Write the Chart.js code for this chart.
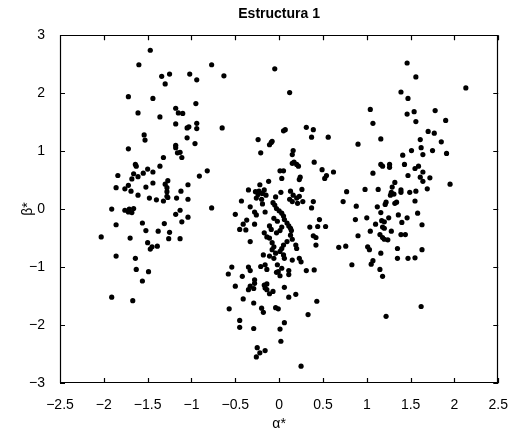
<!DOCTYPE html>
<html>
<head>
<meta charset="utf-8">
<script src="https://cdn.jsdelivr.net/npm/chart.js@4"></script>
<style>
  html, body { margin: 0; padding: 0; background: #fff; }
  #wrap { width: 514px; height: 435px; }
</style>
</head>
<body>
<div id="wrap"><canvas id="scatterChart" width="514" height="435"></canvas></div>
<script>
// values, one pair of arrays per cloud
const alphaLeft = [-1.47,-1.60,-0.77,-1.34,-1.25,-1.30,-1.02,-0.94,-1.72,-1.44,-0.95,-1.61,-1.36,-1.18,-1.15,-1.10,
  -1.18,-1.05,-1.03,-0.94,-0.94,-1.54,-1.53,-1.05,-0.96,-1.72,-1.18,-1.18,-1.16,-1.13,-1.32,-1.11,-1.64,-1.63,-1.36,
  -1.50,-1.44,-1.55,-1.84,-1.66,-1.61,-1.68,-0.91,-0.82,-1.27,-1.30,-1.44,-1.52,-1.04,-1.86,-1.76,-1.72,-1.69,-1.28,
  -1.28,-1.28,-1.27,-1.12,-1.61,-1.48,-1.40,-1.32,-1.17,-1.04,-0.77,-1.91,-1.76,-1.71,-1.66,-1.68,-1.72,-1.13,-1.18,
  -1.04,-1.11,-1.56,-1.31,-1.86,-1.52,-1.38,-1.25,-2.03,-1.70,-1.26,-1.13,-1.50,-1.45,-1.47,-1.39,-1.86,-1.64,-1.63,
  -1.49,-1.56,-1.91,-1.67];
const betaLeft = [2.74,2.49,2.49,2.29,2.33,2.16,2.33,2.23,1.94,1.91,1.82,1.66,1.59,1.74,1.66,1.65,
  1.47,1.40,1.42,1.48,1.39,1.28,1.19,1.23,1.13,1.04,1.10,1.06,0.97,0.98,0.89,0.89,0.77,0.74,0.74,
  0.69,0.64,0.62,0.58,0.61,0.56,0.52,0.57,0.66,0.49,0.43,0.45,0.38,0.42,0.37,0.35,0.41,0.31,0.37,
  0.30,0.22,0.20,0.31,0.24,0.19,0.16,0.14,0.19,0.17,0.02,0.00,-0.02,0.00,0.01,-0.06,-0.05,-0.02,-0.09,
  -0.14,-0.22,-0.24,-0.25,-0.27,-0.37,-0.38,-0.40,-0.48,-0.50,-0.51,-0.51,-0.58,-0.65,-0.69,-0.64,-0.81,-0.85,-1.04,
  -1.08,-1.24,-1.52,-1.58];

const alphaMid = [-0.63,-0.05,0.12,-0.65,-0.24,-0.11,-0.09,-0.08,0.05,0.07,0.31,0.39,0.37,0.56,-0.21,0.16,0.15,
  0.17,0.20,0.22,0.15,0.40,0.49,0.54,0.52,0.62,0.01,0.05,0.24,0.23,0.03,-0.12,-0.22,-0.35,-0.27,-0.23,-0.17,-0.24,
  -0.19,-0.15,-0.26,-0.20,0.02,0.13,0.16,0.20,0.23,0.26,-0.43,-0.04,-0.07,0.12,0.15,0.21,0.27,0.39,-0.33,-0.28,
  -0.16,-0.19,-0.05,-0.03,0.00,0.03,0.05,0.37,-0.50,-0.26,-0.06,-0.02,0.06,0.09,0.11,0.13,0.14,-0.37,-0.41,-0.45,
  -0.38,-0.28,-0.11,-0.09,0.03,0.01,-0.03,0.46,0.35,0.44,0.53,0.39,0.42,-0.17,-0.14,-0.11,0.13,0.15,0.09,-0.33,
  -0.08,-0.06,-0.08,0.05,0.03,0.01,0.19,0.20,0.42,0.68,-0.18,-0.11,-0.06,-0.04,0.05,0.06,0.15,0.23,0.25,-0.54,
  -0.35,-0.33,-0.21,-0.16,-0.14,-0.02,-0.01,0.03,0.11,0.31,0.40,-0.58,-0.42,-0.03,0.01,0.11,-0.50,-0.28,-0.28,
  -0.33,-0.29,-0.35,-0.17,-0.14,-0.16,-0.14,-0.11,-0.07,0.06,0.11,0.19,-0.41,-0.29,0.43,-0.57,-0.20,-0.18,-0.04,
  -0.01,0.33,-0.45,-0.45,-0.29,0.01,0.06,0.02,-0.25,-0.22,-0.16,-0.26,0.25];
const betaMid = [2.30,2.42,2.01,1.40,1.20,1.11,1.15,1.17,1.35,1.37,1.41,1.37,1.24,1.24,0.97,1.01,0.94,
  0.81,0.77,0.74,0.79,0.81,0.68,0.58,0.53,0.64,0.66,0.66,0.55,0.51,0.53,0.48,0.42,0.33,0.30,0.31,0.33,0.25,
  0.27,0.24,0.19,0.17,0.29,0.31,0.24,0.19,0.22,0.34,0.14,0.21,0.11,0.17,0.13,0.10,0.13,0.13,0.04,-0.05,
  -0.05,0.09,0.07,0.01,-0.03,-0.07,-0.12,0.02,-0.09,-0.10,-0.16,-0.21,-0.18,-0.24,-0.29,-0.33,-0.37,-0.19,-0.26,-0.35,
  -0.36,-0.26,-0.29,-0.35,-0.31,-0.37,-0.41,-0.18,-0.31,-0.30,-0.30,-0.46,-0.49,-0.41,-0.48,-0.50,-0.45,-0.52,-0.56,-0.56,
  -0.58,-0.65,-0.70,-0.62,-0.68,-0.73,-0.62,-0.68,-0.62,-0.66,-0.79,-0.81,-0.85,-0.76,-0.79,-0.85,-0.88,-0.85,-0.91,-1.00,
  -1.00,-1.06,-0.99,-0.96,-1.04,-0.96,-1.08,-1.02,-1.06,-1.06,-1.05,-1.12,-1.16,-1.09,-1.15,-1.13,-1.33,-1.22,-1.28,
  -1.33,-1.37,-1.39,-1.31,-1.29,-1.36,-1.39,-1.46,-1.42,-1.35,-1.52,-1.47,-1.55,-1.62,-1.59,-1.72,-1.71,-1.78,-1.70,
  -1.72,-1.82,-1.92,-2.04,-2.06,-2.07,-1.96,-2.28,-2.39,-2.48,-2.44,-2.55,-2.71];

const alphaRight = [1.46,1.56,2.13,1.39,1.47,1.04,1.46,1.54,1.78,1.07,1.56,1.90,1.70,1.77,1.16,1.61,1.85,0.90,
  1.62,1.51,1.75,1.41,1.64,1.91,1.16,1.18,1.26,1.26,1.43,1.55,1.59,1.64,1.61,1.64,1.72,1.07,1.47,1.95,1.32,1.29,
  1.28,1.31,1.27,1.39,1.39,1.49,1.56,1.69,0.77,0.98,1.13,0.73,0.88,1.12,1.21,1.22,1.32,1.34,1.55,1.16,1.36,1.58,
  0.87,1.00,1.25,1.46,1.10,1.17,1.20,1.40,1.63,1.18,1.20,1.04,1.28,1.15,1.18,1.24,1.20,1.39,1.44,0.90,0.76,1.01,
  1.03,1.35,1.63,1.16,1.35,1.47,1.55,1.07,1.05,0.83,1.15,1.18,1.62,1.22];
const betaRight = [2.52,2.28,2.09,2.02,1.91,1.72,1.64,1.68,1.70,1.48,1.51,1.53,1.34,1.31,1.21,1.20,1.16,1.12,
  1.06,1.01,1.01,0.93,0.94,0.96,0.77,0.74,0.77,0.72,0.77,0.70,0.74,0.64,0.55,0.48,0.54,0.62,0.58,0.43,0.46,0.38,
  0.29,0.26,0.24,0.33,0.29,0.29,0.31,0.35,0.30,0.34,0.34,0.13,0.05,0.04,0.08,0.12,0.10,0.12,0.14,-0.06,-0.10,-0.07,
  -0.18,-0.15,-0.15,-0.15,-0.26,-0.20,-0.22,-0.23,-0.27,-0.31,-0.33,-0.38,-0.38,-0.44,-0.49,-0.53,-0.52,-0.44,-0.44,-0.46,-0.64,-0.65,
  -0.70,-0.68,-0.70,-0.76,-0.85,-0.85,-0.84,-0.89,-0.95,-0.96,-1.04,-1.16,-1.68,-1.85];

const xTicks = [-2.5, -2, -1.5, -1, -0.5, 0, 0.5, 1, 1.5, 2, 2.5];
const yTicks = [-3, -2, -1, 0, 1, 2, 3];

const alphaAll = alphaLeft.concat(alphaMid, alphaRight);
const betaAll = betaLeft.concat(betaMid, betaRight);
const points = alphaAll.map((a, i) => ({ x: a, y: betaAll[i] }));

const minus = v => String(v).replace('-', '\u2212');

// matlab style box with the ticks pointing inwards
const boxTicks = {
  id: 'boxTicks',
  afterDraw(chart) {
    const ctx = chart.ctx;
    const a = chart.chartArea;
    const xs = chart.scales.x, ys = chart.scales.y;
    const len = 5;
    ctx.save();
    ctx.strokeStyle = '#000';
    ctx.lineWidth = 1.2;
    ctx.beginPath();
    ctx.rect(Math.round(a.left) + 0.5, Math.round(a.top) + 0.5, Math.round(a.width) - 1, Math.round(a.height) - 1);
    xs.ticks.forEach(t => {
      const px = Math.round(xs.getPixelForValue(t.value)) + 0.5;
      ctx.moveTo(px, a.bottom); ctx.lineTo(px, a.bottom - len);
      ctx.moveTo(px, a.top); ctx.lineTo(px, a.top + len);
    });
    ys.ticks.forEach(t => {
      const py = Math.round(ys.getPixelForValue(t.value)) + 0.5;
      ctx.moveTo(a.left, py); ctx.lineTo(a.left + len, py);
      ctx.moveTo(a.right, py); ctx.lineTo(a.right - len, py);
    });
    ctx.stroke();
    ctx.restore();
  }
};

const ctx = document.getElementById('scatterChart').getContext('2d');
const scatterChart = new Chart(ctx, {
  type: 'scatter',
  data: {
    datasets: [{
      label: 'Estructura 1',
      data: points,
      backgroundColor: '#000',
      borderWidth: 0,
      pointRadius: 2.6,
      pointHoverRadius: 2.6
    }]
  },
  options: {
    responsive: false,
    animation: false,
    layout: { padding: { left: 0, right: 13, top: 0, bottom: 0 } },
    plugins: {
      legend: { display: false },
      tooltip: { enabled: false },
      title: {
        display: true,
        text: 'Estructura 1',
        fullSize: false,
        color: '#000',
        font: { family: '"Liberation Sans", Arial, sans-serif', size: 14, weight: 'bold' },
        padding: { top: 6, bottom: 12.4 }
      }
    },
    scales: {
      x: {
        type: 'linear',
        min: -2.5,
        max: 2.5,
        afterBuildTicks: s => { s.ticks = xTicks.map(v => ({ value: v })); },
        afterFit: s => { s.height = 52; },
        grid: { display: false },
        border: { display: false },
        ticks: {
          color: '#000',
          padding: 6,
          maxRotation: 0,
          font: { family: '"Liberation Sans", Arial, sans-serif', size: 14 },
          callback: v => minus(v)
        },
        title: {
          display: true,
          text: '\u03b1*',
          color: '#000',
          font: { family: '"Liberation Sans", Arial, sans-serif', size: 14 },
          padding: { top: 0, bottom: 2 }
        }
      },
      y: {
        type: 'linear',
        min: -3,
        max: 3,
        afterBuildTicks: s => { s.ticks = yTicks.map(v => ({ value: v })); },
        afterFit: s => { s.width = 60; },
        grid: { display: false },
        border: { display: false },
        ticks: {
          color: '#000',
          padding: 7,
          font: { family: '"Liberation Sans", Arial, sans-serif', size: 14 },
          callback: v => minus(v)
        },
        title: {
          display: true,
          text: '\u03b2*',
          color: '#000',
          font: { family: '"Liberation Sans", Arial, sans-serif', size: 14 },
          padding: { top: 19.6, bottom: 0 }
        }
      }
    }
  },
  plugins: [boxTicks]
});
</script>
</body>
</html>
